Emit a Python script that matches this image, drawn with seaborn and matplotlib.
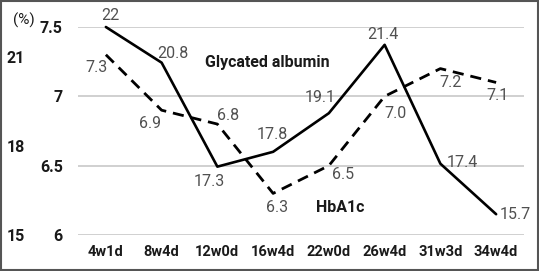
import numpy as np
import pandas as pd
import matplotlib
matplotlib.use("Agg")
import matplotlib.pyplot as plt
import seaborn as sns
from matplotlib.patches import Rectangle

# Daten
weeks = ["4w1d", "8w4d", "12w0d", "16w4d", "22w0d", "26w4d", "31w3d", "34w4d"]
glycated_albumin = [22, 20.8, 17.3, 17.8, 19.1, 21.4, 17.4, 15.7]
hba1c = [7.3, 6.9, 6.8, 6.3, 6.5, 7.0, 7.2, 7.1]
ga_labels = ["22", "20.8", "17.3", "17.8", "19.1", "21.4", "17.4", "15.7"]
hb_labels = ["7.3", "6.9", "6.8", "6.3", "6.5", "7.0", "7.2", "7.1"]
hb_ticks = [6, 6.5, 7, 7.5]
hb_ticklabels = ["6", "6.5", "7", "7.5"]
ga_ticks = [15, 18, 21]

# Label-Versatz in Pixeln (dx, dy nach unten positiv)
ga_offsets = [(5, -12), (11, -9), (-8, 15), (-1, -17), (-9, -16), (-2, -10), (22, -1), (19, 0)]
hb_offsets = [(-9, 13), (-12, 13), (11, -9), (4, 14), (14, 9), (11, 17), (10, 14), (1, 13)]

sns.set_style("white")
plt.rcParams["font.family"] = ["Roboto", "DejaVu Sans"]

fig = plt.figure(figsize=(5.39, 2.71), dpi=100)
ax = fig.add_axes([78 / 539, 36 / 271, 446 / 539, 208 / 271])
ax2 = ax.twinx()

df = pd.DataFrame({"week": weeks, "ga": glycated_albumin, "hb": hba1c})

sns.lineplot(data=df, x="week", y="hb", ax=ax, color="black", linewidth=2.0,
             sort=False, clip_on=False)
ax.lines[0].set_dashes((4, 2.5))
sns.lineplot(data=df, x="week", y="ga", ax=ax2, color="black", linewidth=1.9,
             sort=False, clip_on=False)

ax.set_xlim(-0.5, len(weeks) - 0.5)
ax.set_ylim(6, 7.5)
ax2.set_ylim(15, 22)

ax.set_yticks(hb_ticks)
ax.set_yticklabels(hb_ticklabels)
ax.yaxis.grid(True, color="#c8c8c8", linewidth=1.2)
ax.set_axisbelow(True)
ax.tick_params(axis="y", length=0, pad=11, labelsize=11.5)
ax.tick_params(axis="x", length=0, pad=7, labelsize=10.5)
for t in ax.get_xticklabels() + ax.get_yticklabels():
    t.set_fontweight("bold")
    t.set_color("#1a1a1a")

ax2.yaxis.tick_left()
ax2.set_yticks(ga_ticks)
ax2.tick_params(axis="y", length=0, pad=38, labelsize=11.5)
for t in ax2.get_yticklabels():
    t.set_fontweight("bold")
    t.set_color("#1a1a1a")

for a in (ax, ax2):
    a.set_xlabel("")
    a.set_ylabel("")
    for s in a.spines.values():
        s.set_visible(False)

px = 72 / 100
for i, (v, lab) in enumerate(zip(glycated_albumin, ga_labels)):
    dx, dy = ga_offsets[i]
    ax2.annotate(lab, (i, v), xytext=(dx * px, -dy * px), textcoords="offset points",
                 ha="center", va="center", fontsize=11.5, color="#505050")
for i, (v, lab) in enumerate(zip(hba1c, hb_labels)):
    dx, dy = hb_offsets[i]
    ax.annotate(lab, (i, v), xytext=(dx * px, -dy * px), textcoords="offset points",
                ha="center", va="center", fontsize=11.5, color="#505050")

fig.text(205 / 539, 1 - 62 / 271, "Glycated albumin", fontsize=11.5, fontweight="bold",
         ha="left", va="center", color="#1a1a1a")
fig.text(340 / 539, 1 - 208 / 271, "HbA1c", fontsize=11.5, fontweight="bold",
         ha="center", va="center", color="#1a1a1a")
fig.text(24 / 539, 1 - 20 / 271, "(%)", fontsize=11, ha="center", va="center", color="#1a1a1a")

fig.patches.append(Rectangle((0.001, 0.002), 0.997, 0.995, transform=fig.transFigure,
                             fill=False, edgecolor="#555555", linewidth=1.5))

fig.savefig("out.png", dpi=100)
